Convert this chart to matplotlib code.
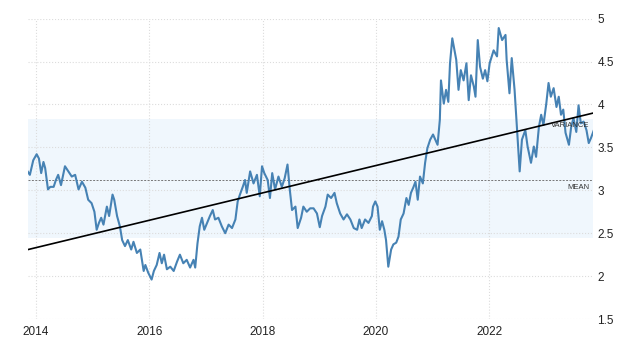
import numpy as np
import matplotlib.pyplot as plt

# series (decimal year, value)
dates = [2013.85, 2013.89, 2013.95, 2014.01, 2014.05, 2014.09, 2014.13, 2014.16, 2014.21, 2014.25,
         2014.31, 2014.35, 2014.39, 2014.44, 2014.51, 2014.57, 2014.63, 2014.69, 2014.75, 2014.81,
         2014.87, 2014.92, 2014.98, 2015.03, 2015.07, 2015.11, 2015.15, 2015.19, 2015.25, 2015.29,
         2015.35, 2015.38, 2015.43, 2015.48, 2015.52, 2015.57, 2015.62, 2015.68, 2015.72, 2015.78,
         2015.84, 2015.90, 2015.93, 2015.98, 2016.04, 2016.08, 2016.13, 2016.18, 2016.22, 2016.26,
         2016.31, 2016.37, 2016.43, 2016.49, 2016.54, 2016.60, 2016.66, 2016.72, 2016.78, 2016.81,
         2016.85, 2016.89, 2016.93, 2016.97, 2017.02, 2017.07, 2017.12, 2017.16, 2017.22, 2017.28,
         2017.34, 2017.40, 2017.46, 2017.52, 2017.56, 2017.60, 2017.65, 2017.69, 2017.72, 2017.78,
         2017.84, 2017.90, 2017.95, 2017.99, 2018.03, 2018.09, 2018.13, 2018.17, 2018.22, 2018.28,
         2018.34, 2018.39, 2018.44, 2018.48, 2018.52, 2018.58, 2018.62, 2018.68, 2018.72, 2018.78,
         2018.84, 2018.90, 2018.96, 2019.01, 2019.05, 2019.11, 2019.15, 2019.21, 2019.27, 2019.31,
         2019.37, 2019.43, 2019.49, 2019.55, 2019.61, 2019.67, 2019.71, 2019.75, 2019.81, 2019.87,
         2019.93, 2019.95, 2019.99, 2020.03, 2020.07, 2020.11, 2020.15, 2020.18, 2020.22, 2020.27,
         2020.31, 2020.36, 2020.40, 2020.44, 2020.49, 2020.54, 2020.58, 2020.62, 2020.66, 2020.70,
         2020.74, 2020.78, 2020.83, 2020.87, 2020.91, 2020.96, 2021.01, 2021.05, 2021.09, 2021.13,
         2021.15, 2021.20, 2021.24, 2021.28, 2021.31, 2021.35, 2021.39, 2021.42, 2021.46, 2021.50,
         2021.55, 2021.60, 2021.64, 2021.68, 2021.73, 2021.76, 2021.80, 2021.84, 2021.89, 2021.93,
         2021.97, 2022.01, 2022.08, 2022.14, 2022.17, 2022.23, 2022.29, 2022.31, 2022.36, 2022.40,
         2022.45, 2022.49, 2022.54, 2022.58, 2022.64, 2022.68, 2022.74, 2022.79, 2022.83, 2022.88,
         2022.92, 2022.96, 2023.01, 2023.05, 2023.09, 2023.14, 2023.19, 2023.23, 2023.27, 2023.31,
         2023.35, 2023.41, 2023.45, 2023.49, 2023.54, 2023.58, 2023.62, 2023.67, 2023.72, 2023.76,
         2023.80, 2023.85]
values = [3.22, 3.18, 3.35, 3.42, 3.37, 3.20, 3.33, 3.26, 3.01, 3.04,
          3.04, 3.12, 3.18, 3.06, 3.28, 3.22, 3.16, 3.18, 3.01, 3.10,
          3.03, 2.89, 2.85, 2.75, 2.54, 2.62, 2.68, 2.60, 2.81, 2.70,
          2.95, 2.89, 2.70, 2.58, 2.42, 2.35, 2.42, 2.31, 2.40, 2.27,
          2.31, 2.06, 2.13, 2.04, 1.96, 2.06, 2.13, 2.27, 2.15, 2.25,
          2.08, 2.11, 2.06, 2.17, 2.25, 2.15, 2.19, 2.10, 2.19, 2.10,
          2.38, 2.58, 2.68, 2.54, 2.62, 2.70, 2.77, 2.66, 2.68, 2.58,
          2.50, 2.60, 2.56, 2.66, 2.87, 2.95, 3.04, 3.12, 2.97, 3.22,
          3.08, 3.18, 2.93, 3.28, 3.20, 3.12, 2.91, 3.20, 3.01, 3.16,
          3.04, 3.14, 3.30, 3.01, 2.77, 2.81, 2.56, 2.68, 2.81, 2.75,
          2.79, 2.79, 2.73, 2.57, 2.70, 2.81, 2.95, 2.91, 2.97, 2.85,
          2.73, 2.66, 2.72, 2.66, 2.56, 2.54, 2.66, 2.56, 2.66, 2.62,
          2.70, 2.81, 2.87, 2.81, 2.54, 2.64, 2.54, 2.42, 2.11, 2.31,
          2.37, 2.39, 2.46, 2.66, 2.73, 2.91, 2.83, 2.97, 3.03, 3.10,
          2.89, 3.16, 3.08, 3.32, 3.49, 3.59, 3.65, 3.59, 3.53, 3.82,
          4.28, 4.01, 4.17, 4.03, 4.48, 4.77, 4.63, 4.52, 4.17, 4.40,
          4.28, 4.48, 4.05, 4.34, 4.21, 4.09, 4.75, 4.44, 4.30, 4.40,
          4.27, 4.48, 4.63, 4.56, 4.89, 4.75, 4.81, 4.52, 4.13, 4.54,
          4.17, 3.74, 3.22, 3.59, 3.70, 3.51, 3.32, 3.51, 3.39, 3.74,
          3.88, 3.76, 4.01, 4.25, 4.09, 4.19, 3.97, 4.09, 3.88, 3.94,
          3.67, 3.53, 3.74, 3.84, 3.68, 3.99, 3.78, 3.80, 3.70, 3.55,
          3.61, 3.70]

mean_val = 3.12
band_low, band_high = 2.44, 3.83
trend_x = [2013.86, 2023.84]
trend_y = [2.31, 3.90]
xticks = [2014, 2016, 2018, 2020, 2022]
yticks = [1.5, 2, 2.5, 3, 3.5, 4, 4.5, 5]

plt.rcParams['font.family'] = ['Liberation Sans', 'DejaVu Sans']

fig = plt.figure(figsize=(6.4, 3.51), dpi=100)
ax = fig.add_axes([0.044, 0.091, 0.883, 0.856])

ax.axhspan(band_low, band_high, color='#f0f7fd', zorder=0, lw=0)
ax.grid(True, color='#dcdcdc', linestyle=':', linewidth=0.8, zorder=1)
ax.axhline(mean_val, color='#777777', linestyle='--', linewidth=0.7, dashes=(2, 1.5), zorder=2)

ax.plot(dates, values, color='#4682b4', linewidth=1.5, zorder=3)
ax.plot(trend_x, trend_y, color='black', linewidth=1.2, zorder=4)

ax.text(2023.78, 3.755, 'VARIANCE', fontsize=5.5, color='#333333', ha='right', va='center', zorder=5)
ax.text(2023.78, 3.03, 'MEAN', fontsize=5.5, color='#333333', ha='right', va='center', zorder=5)

ax.set_xlim(2013.86, 2023.84)
ax.set_ylim(1.5, 5)
ax.set_xticks(xticks)
ax.set_xticklabels([str(t) for t in xticks])
ax.set_yticks(yticks)
ax.set_yticklabels(['1.5', '2', '2.5', '3', '3.5', '4', '4.5', '5'])
ax.yaxis.tick_right()
ax.tick_params(axis='both', length=0, labelsize=8.5, labelcolor='#222222')
ax.tick_params(axis='y', pad=3)
ax.tick_params(axis='x', pad=5)
for s in ax.spines.values():
    s.set_visible(False)

fig.savefig('out.png', dpi=100)
